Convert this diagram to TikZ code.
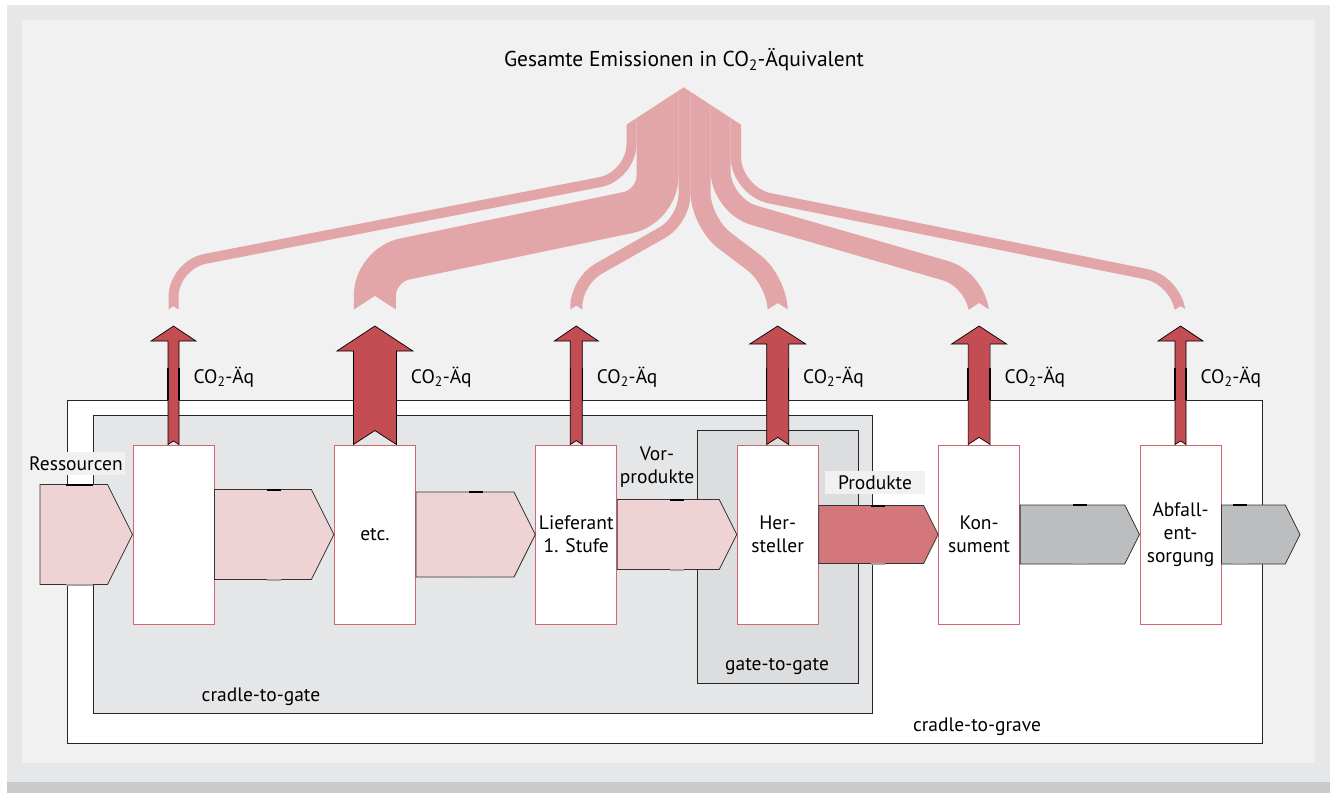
\documentclass[tikz,border=0pt]{standalone}
\usepackage{fontspec}
\setmainfont{PT Sans}
\usetikzlibrary{calc}
\definecolor{panelgray}{HTML}{F1F1F1}
\definecolor{framegray}{HTML}{E6E7E8}
\definecolor{stripgray}{HTML}{C9CACC}
\definecolor{gatefill}{HTML}{E5E6E8}
\definecolor{innergatefill}{HTML}{DCDDDF}
\definecolor{flowpink}{HTML}{EFD3D4}
\definecolor{flowred}{HTML}{D4777B}
\definecolor{flowgray}{HTML}{BCBDBF}
\definecolor{emired}{HTML}{C44D53}
\definecolor{bandpink}{HTML}{E2A6A8}
\definecolor{boxred}{HTML}{D4666D}
\tikzset{
  procbox/.style = {draw=boxred, fill=white, line width=1pt, minimum width=81pt,
    minimum height=179pt, align=center, inner sep=0pt},
  flowarrow/.style = {draw=black!80, line width=0.8pt},
  emiarrow/.style = {fill=emired, draw=black, line width=0.7pt},
  band/.style = {draw=bandpink, line cap=butt},
  tickmark/.style = {draw=black, line width=2pt},
  scopebox/.style = {draw=black!85, line width=1pt},
  lblbg/.style = {fill=panelgray, inner xsep=2pt, inner ysep=0pt, minimum height=23pt}
}
\newcommand\flowarr[4]{% fill, from, to, half height
  \draw[flowarrow, fill=#1] ($(#2)+(0,-#4)$) -- ($(#3)+(-0.5*#4,-#4)$) -- (#3)
    -- ($(#3)+(-0.5*#4,#4)$) -- ($(#2)+(0,#4)$) -- cycle;}

\begin{document}
\begin{tikzpicture}[x=1pt, y=-1pt, every node/.append style={font=\fontsize{19.5}{22.7}\selectfont}]
  % frame
  \fill[white] (0,0) rectangle (1330,793);
  \fill[framegray] (7,5) rectangle (1330,782);
  \fill[stripgray] (7,782) rectangle (1330,793);
  \fill[panelgray] (22,20) rectangle (1315,763);
  \useasboundingbox (0,0) rectangle (1330,793);

  % system boundaries
  \draw[scopebox, fill=white] (67,400) rectangle (1262,743);
  \draw[scopebox, fill=gatefill] (93,415) rectangle (872,713);
  \draw[scopebox, fill=innergatefill] (697,430) rectangle (858,683);
  \node (c2grave) at (977,727) {cradle-to-grave};
  \node (c2gate) at (261,697) {cradle-to-gate};
  \node (g2gate) at (777,666) {gate-to-gate};

  % stages
  \foreach \i/\txt in {1/{}, 2/{etc.}, 3/{Lieferant\\1. Stufe}, 4/{Her-\\steller},
      5/{Kon-\\sument}, 6/{Abfall-\\ent-\\sorgung}}
    \node[procbox] (b\i) at ({173.5+201.4*(\i-1)},534.5) {\txt};

  \node[lblbg] (res) at (76,463.5) {Ressourcen};
  \node[align=center] (vor) at (657,467) {Vor-\\produkte};
  \node[lblbg, minimum width=100pt] (prod) at (875,482.5) {Produkte};

  % material flow
  \coordinate (src) at (40,534.5);
  \coordinate (out) at (1300,534.5);
  \flowarr{flowpink}{src}{b1.west}{50}
  \flowarr{flowpink}{b1.east}{b2.west}{45}
  \flowarr{flowpink}{b2.east}{b3.west}{42.5}
  \flowarr{flowpink}{b3.east}{b4.west}{35}
  \flowarr{flowred}{b4.east}{b5.west}{29}
  \flowarr{flowgray}{b5.east}{b6.west}{29.5}
  \flowarr{flowgray}{b6.east}{out}{29.5}
  \draw[tickmark] (66,484.5) -- (93,484.5);
  \draw[tickmark, black!35] (66,584.5) -- (93,584.5);
  \foreach \x/\h in {274/45, 476/42.5, 677/35, 878/29, 1080/29.5, 1240/29.5} {
    \draw[tickmark] (\x-7,534.5-\h) -- (\x+7,534.5-\h);
    \draw[tickmark, black!35] (\x-7,534.5+\h) -- (\x+7,534.5+\h);
  }

  % emissions per stage
  \foreach \i/\s/\h/\hb in {1/5.5/22.5/341, 2/21.5/38/351, 3/6/22/341,
      4/11/28/344, 5/11/27.5/344, 6/5.5/22.5/341} {
    \pgfmathsetmacro{\xc}{173.5+201.4*(\i-1)}
    \draw[emiarrow] ($(b\i.north)+(-\s,0)$) -- (\xc-\s,\hb) -- (\xc-\h,\hb)
      -- (\xc,326) coordinate (tip\i) -- (\xc+\h,\hb) -- (\xc+\s,\hb)
      -- ($(b\i.north)+(\s,0)$) -- ($(b\i.north)+(0,-0.65*\s)$) -- cycle;
    \draw[tickmark, line width=1.3pt] (\xc-\s,368) -- (\xc-\s,400) (\xc+\s,368) -- (\xc+\s,400);
    \node[anchor=west] (co\i) at (\xc+\s+11,377) {CO\textsubscript{2}-Äq};
  }

  % total emissions
  \node[font=\fontsize{21.5}{25}\selectfont] (title) at (684,60)
    {Gesamte Emissionen in CO\textsubscript{2}-Äquivalent};
  \begin{scope}
    \clip (0,168) -- (560,168) -- (683.75,87.3) -- (807,168) -- (1330,168) -- (1330,309.5)
      foreach \x/\h in {1180.5/5.25, 979.1/10, 777.7/10, 576.3/6, 374.9/21, 173.5/5}
        { -- (\x+\h,309.5) -- (\x,309.5-0.65*\h) -- (\x-\h,309.5) }
      -- (0,309.5) -- cycle;
    \foreach \xt/\w/\yt/\xb/\yb/\r in {631.5/10/176/173.5/265/32, 657.5/42/206.4/374.9/265.2/30,
        684.5/12/220/576.3/281.3/25, 700.5/20/222.3/777.7/280.8/30,
        720.5/20/205.6/979.1/280.4/35, 735.75/10.5/191.4/1180.5/281.1/35}
      \draw[band, line width=\w pt, rounded corners=\r pt] (\xt,80) -- (\xt,\yt) -- (\xb,\yb) -- (\xb,320);
  \end{scope}
\end{tikzpicture}
\end{document}
